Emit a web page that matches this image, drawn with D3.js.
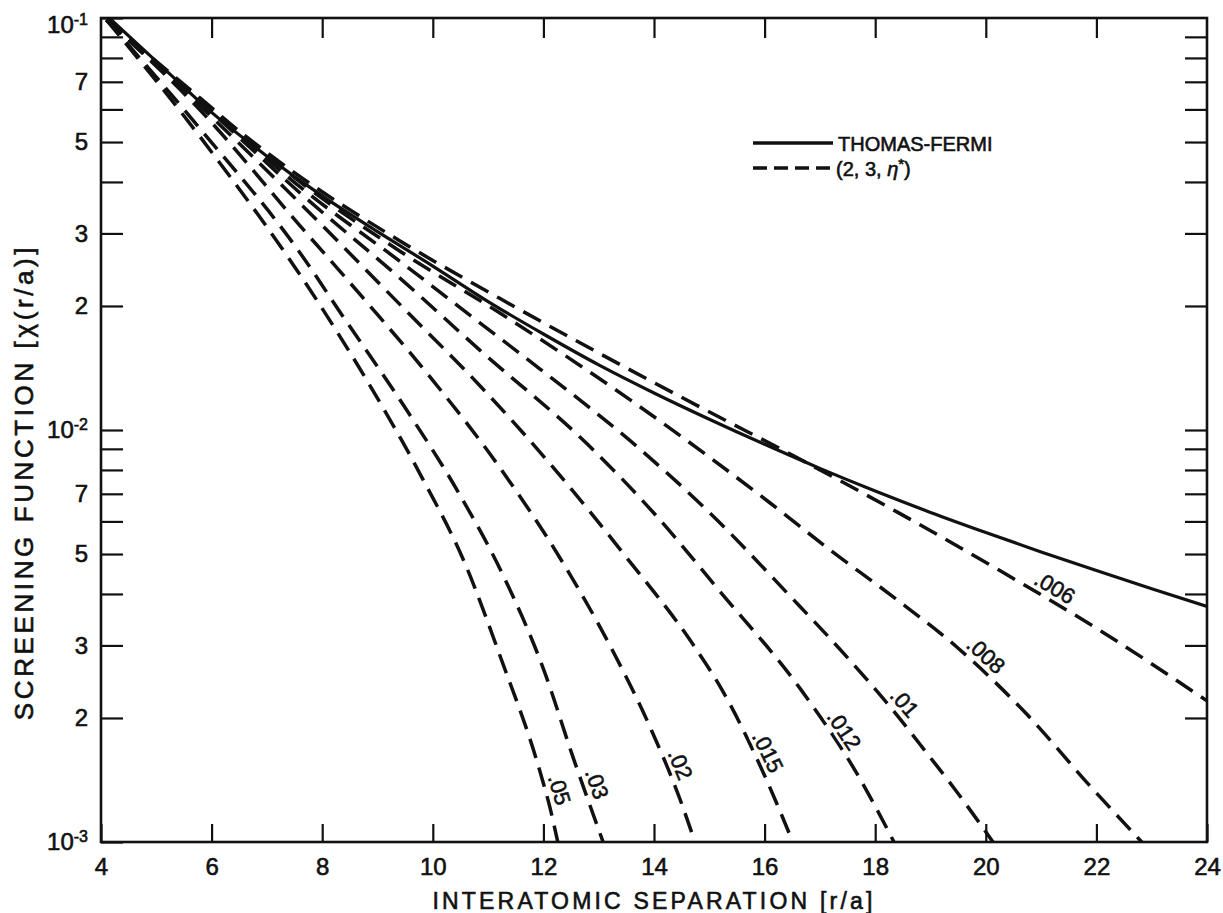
<!DOCTYPE html>
<html>
<head>
<meta charset="utf-8">
<script src="https://cdn.jsdelivr.net/npm/d3@7"></script>
<style>
  body { margin: 0; background: #fff; }
  text { font-family: "Liberation Sans", Arial, Helvetica, sans-serif; fill: #111; stroke: #111; stroke-width: 0.6px; }
  text.halo { fill: #fff; stroke: #fff; stroke-width: 6px; stroke-linejoin: round; }
</style>
</head>
<body>
<div class="chart"></div>
<script>
// ---- data ----
var sepTicks = [4, 6, 8, 10, 12, 14, 16, 18, 20, 22, 24];
var decades = [1e-3, 1e-2, 1e-1];
var mantissas = [2, 3, 4, 5, 6, 7, 8, 9];
var labelledMantissas = [2, 3, 5, 7];

// Thomas-Fermi screening function (solid)
var tfSep = [4.15, 5, 6, 7, 8, 9, 10, 11, 12, 13, 14, 15, 16, 17, 18, 19, 20, 21, 22, 23, 24];
var tfChi = [0.1, 0.0785, 0.059, 0.0462, 0.037, 0.0303, 0.025, 0.0205, 0.0171, 0.01439, 0.0123,
             0.01062, 0.00923, 0.00807, 0.00711, 0.00631, 0.00564, 0.00506, 0.00456, 0.00412, 0.00373];

// (2, 3, eta*) curves (dashed)
var etaNames = [".006", ".008", ".01", ".012", ".015", ".02", ".03", ".05"];
var etaSep = [
  [4.1, 5.8, 7.6, 9.4, 11.2, 13, 14.8, 16.6, 18.4, 20.3, 22.1, 24],
  [4.1, 5.8, 7.6, 9.4, 11.22, 13.57, 16.1, 17.18, 18.32, 19.48, 20.76, 21.88, 22.82],
  [4.1, 5.8, 7.6, 9.4, 10.85, 11.94, 13.69, 15.0, 16.44, 17.45, 18.32, 18.97, 19.41, 20.13],
  [4.1, 5.8, 7.6, 9.4, 10.85, 12.84, 14.0, 15.21, 16.66, 17.69, 18.34],
  [4.1, 5.8, 7.6, 9.48, 10.89, 12.26, 13.51, 14.71, 15.23, 16.04, 16.51],
  [4.1, 5.8, 7.6, 8.81, 10.04, 11.23, 12.3, 13.22, 13.96, 14.47, 14.74],
  [4.1, 5.8, 7.6, 8.36, 9.48, 10.47, 11.31, 12.01, 12.54, 13.08],
  [4.1, 5.8, 7.96, 8.88, 9.79, 10.6, 11.22, 11.94, 12.12, 12.26]
];
var etaChi = [
  [0.0989, 0.0631, 0.0412, 0.0288, 0.0209, 0.01538, 0.01143, 0.00855, 0.00632, 0.00452, 0.00324, 0.0022],
  [0.0989, 0.0638, 0.04, 0.0272, 0.0192, 0.01183, 0.00665, 0.00512, 0.00394, 0.00297, 0.00203, 0.00137, 0.001],
  [0.0989, 0.0631, 0.0389, 0.0257, 0.0182, 0.01406, 0.00912, 0.00631, 0.00398, 0.00285, 0.00209, 0.00162, 0.00136, 0.001],
  [0.0989, 0.0624, 0.0376, 0.0234, 0.01563, 0.00912, 0.00628, 0.00403, 0.00234, 0.00145, 0.001],
  [0.0989, 0.061, 0.0355, 0.0197, 0.01265, 0.00787, 0.00489, 0.00301, 0.00234, 0.00141, 0.001],
  [0.0989, 0.0596, 0.0313, 0.0204, 0.013, 0.00804, 0.00489, 0.00297, 0.00186, 0.00127, 0.001],
  [0.0989, 0.0537, 0.0269, 0.019, 0.01143, 0.00703, 0.00433, 0.00261, 0.0016, 0.001],
  [0.0989, 0.0513, 0.0201, 0.01271, 0.00773, 0.00468, 0.00282, 0.00148, 0.00121, 0.001]
];
// screening-function value where each curve label starts
var etaLabelChi = [0.00414, 0.00292, 0.00222, 0.00199, 0.00179, 0.00163, 0.00147, 0.00143];

// ---- layout ----
var W = 1223, H = 913;
var margin = {left: 101, top: 18, right: 16, bottom: 71};
var width = W - margin.left - margin.right;
var height = H - margin.top - margin.bottom;

var svg = d3.select(".chart").append("svg")
  .attr("width", W)
  .attr("height", H);

var g = svg.append("g")
  .attr("transform", "translate(" + margin.left + "," + margin.top + ")");

var x = d3.scaleLinear().domain([4, 24]).range([0, width]);
var y = d3.scaleLog().domain([1e-3, 1e-1]).range([height, 0]);

// y tick values: decades and the minor marks in between
var yTicks = [];
decades.forEach(function(dec){
  yTicks.push(dec);
  if (dec < 1e-1) mantissas.forEach(function(m){ yTicks.push(m * dec); });
});

g.append("clipPath").attr("id", "plotclip")
  .append("rect").attr("width", width).attr("height", height);

// ---- axes ----
var xAxis = g.append("g")
  .attr("transform", "translate(0," + height + ")")
  .call(d3.axisBottom(x).tickValues(sepTicks).tickSize(-18).tickSizeOuter(0).tickPadding(16)
        .tickFormat(d3.format("d")));

var xTop = g.append("g")
  .call(d3.axisTop(x).tickValues(sepTicks.slice(1, -1)).tickSize(-20).tickSizeOuter(0).tickFormat(""));

function yLabel(d){
  var m = Math.round(d / Math.pow(10, Math.floor(Math.log10(d) + 1e-9)));
  if (m === 1) return "10";
  return labelledMantissas.indexOf(m) >= 0 ? String(m) : "";
}

var yAxis = g.append("g")
  .call(d3.axisLeft(y).tickValues(yTicks).tickSize(-22).tickSizeOuter(0).tickPadding(13)
        .tickFormat(yLabel));

var yRight = g.append("g")
  .attr("transform", "translate(" + width + ",0)")
  .call(d3.axisRight(y).tickValues(yTicks.filter(function(d){ return d > 1e-3 && d < 1e-1; }))
        .tickSize(-22).tickSizeOuter(0).tickFormat(""));

[xAxis, xTop, yAxis, yRight].forEach(function(a){
  a.select(".domain").remove();
  a.selectAll(".tick line").attr("stroke", "#111").attr("stroke-width", 2.2);
  a.selectAll(".tick text").attr("font-size", 24).attr("fill", "#111");
});

// superscript exponents on decade labels
yAxis.selectAll(".tick text")
  .filter(function(d){ return yLabel(d) === "10"; })
  .each(function(d){
    var t = d3.select(this);
    if (d === 1e-1) t.attr("y", 7);
    t.append("tspan")
      .attr("dy", "-0.5em")
      .attr("font-size", 16)
      .text(String(Math.round(Math.log10(d))));
  });

// plot frame
g.append("rect")
  .attr("width", width)
  .attr("height", height)
  .attr("fill", "none")
  .attr("stroke", "#111")
  .attr("stroke-width", 2.6);

// ---- curves ----
var line = d3.line()
  .x(function(d){ return x(d[0]); })
  .y(function(d){ return y(d[1]); })
  .curve(d3.curveMonotoneX);

var curves = g.append("g").attr("clip-path", "url(#plotclip)");

curves.append("path")
  .datum(d3.zip(tfSep, tfChi))
  .attr("d", line)
  .attr("fill", "none")
  .attr("stroke", "#111")
  .attr("stroke-width", 3.2);

curves.selectAll(".eta")
  .data(etaNames.map(function(n, i){ return d3.zip(etaSep[i], etaChi[i]); }))
  .enter()
  .append("path")
    .attr("class", "eta")
    .attr("d", line)
    .attr("fill", "none")
    .attr("stroke", "#111")
    .attr("stroke-width", 3.5)
    .attr("stroke-dasharray", "20,10");

// separation where curve i reaches a given value (log-linear between read points)
function sepAt(i, c){
  var xs = etaSep[i], cs = etaChi[i], lc = Math.log10(c);
  for (var k = 0; k < xs.length - 1; k++){
    var a = Math.log10(cs[k]), b = Math.log10(cs[k + 1]);
    if (lc <= a && lc >= b) return xs[k] + (lc - a) / (b - a) * (xs[k + 1] - xs[k]);
  }
  return xs[xs.length - 1];
}
function chiAt(i, s){
  var xs = etaSep[i], cs = etaChi[i];
  var k = Math.max(0, Math.min(xs.length - 2, d3.bisectRight(xs, s) - 1));
  var t = (s - xs[k]) / (xs[k + 1] - xs[k]);
  return Math.pow(10, Math.log10(cs[k]) + t * (Math.log10(cs[k + 1]) - Math.log10(cs[k])));
}

function labelTransform(d, i){
  var s = sepAt(i, etaLabelChi[i]);
  var px = x(s), py = y(etaLabelChi[i]);
  var ax = x(s - 0.15), ay = y(chiAt(i, s - 0.15));
  var bx = x(s + 0.15), by = y(chiAt(i, s + 0.15));
  var ang = Math.atan2(by - ay, bx - ax) * 180 / Math.PI;
  return "translate(" + px + "," + py + ") rotate(" + ang + ")";
}

// white halo first so the dashes break around each label
["halo", "etaLabel"].forEach(function(cls){
  g.selectAll("." + cls)
    .data(etaNames)
    .enter()
    .append("text")
      .attr("class", cls)
      .attr("font-size", 22)
      .attr("transform", labelTransform)
      .attr("dx", 1)
      .attr("dy", -6)
      .text(function(d){ return d; });
});

// ---- legend ----
var legend = svg.append("g");
legend.append("line")
  .attr("x1", 753).attr("x2", 833).attr("y1", 143).attr("y2", 143)
  .attr("stroke", "#111").attr("stroke-width", 3.6);
legend.append("text")
  .attr("x", 838).attr("y", 151).attr("font-size", 20)
  .text("THOMAS-FERMI");
legend.append("line")
  .attr("x1", 753).attr("x2", 833).attr("y1", 168).attr("y2", 168)
  .attr("stroke", "#111").attr("stroke-width", 3.6)
  .attr("stroke-dasharray", "14,7");
var lt = legend.append("text")
  .attr("x", 836).attr("y", 176).attr("font-size", 20);
lt.append("tspan").text("(2, 3, ");
lt.append("tspan").attr("font-style", "italic").text("η");
lt.append("tspan").attr("font-size", 15).attr("dy", "-0.45em").text("*");
lt.append("tspan").attr("dy", "0.34em").text(")");

// ---- axis titles ----
svg.append("text")
  .attr("x", margin.left + width / 2)
  .attr("y", 909)
  .attr("text-anchor", "middle")
  .attr("font-size", 23)
  .attr("letter-spacing", 3.2)
  .text("INTERATOMIC SEPARATION [r/a]");

svg.append("text")
  .attr("transform", "translate(33," + 482 + ") rotate(-90)")
  .attr("text-anchor", "middle")
  .attr("font-size", 26)
  .attr("letter-spacing", 3.6)
  .text("SCREENING FUNCTION [χ(r/a)]");
</script>
</body>
</html>
